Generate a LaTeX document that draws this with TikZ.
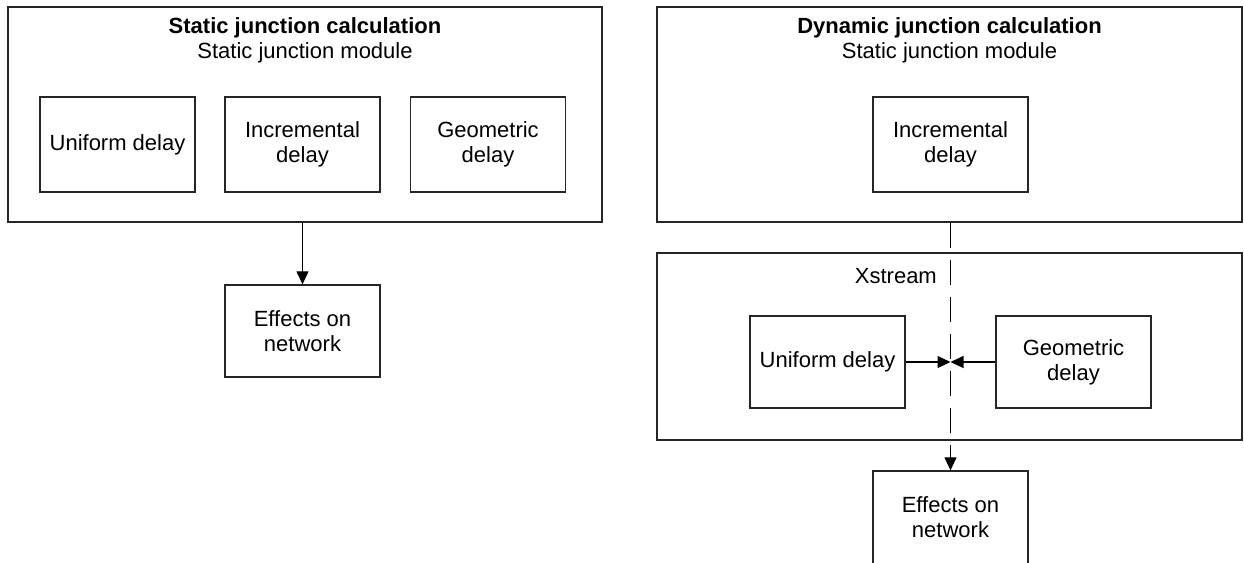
\documentclass[tikz,border=0pt]{standalone}
\usepackage{fontspec}
\setmainfont{Liberation Sans}
\usetikzlibrary{arrows.meta}
\begin{document}
\begin{tikzpicture}[x=1pt,y=-1pt,
  every node/.style={font=\fontsize{22}{25}\selectfont},
  box/.style={draw=black!85, line width=1.3pt, minimum width=155pt, minimum height=95pt, align=center, inner sep=0pt},
  frame/.style={draw=black!85, line width=1.3pt, inner sep=0pt},
  txt/.style={inner sep=0pt, align=center},
  arr/.style={line width=1.2pt, -{Triangle[length=13pt,width=12pt]}},
  dsh/.style={line width=1.2pt, dash pattern=on 25pt off 12pt}]
\useasboundingbox (0,0) rectangle (1244,562);
\clip (0,0) rectangle (1244,562);
% left part
\node[frame, minimum width=594pt, minimum height=215pt] (L) at (305,114.5) {};
\node[txt, font=\fontsize{22}{25}\selectfont\bfseries] (Lt) at (305,28) {Static junction calculation};
\node[txt] (Ls) at (305,53) {Static junction module};
\node[box] (Lu) at (117.5,144.5) {Uniform delay};
\node[box] (Li) at (302.5,144.5) {Incremental\\delay};
\node[box] (Lg) at (488,144.5) {Geometric\\delay};
\node[box, minimum height=92pt] (Le) at (302.5,331) {Effects on\\network};
\draw[arr] (Le.north |- L.south) -- (Le.north);
% right part
\node[frame, minimum width=585pt, minimum height=215pt] (R) at (949.5,114.5) {};
\node[txt, font=\fontsize{22}{25}\selectfont\bfseries] (Rt) at (949.5,28) {Dynamic junction calculation};
\node[txt] (Rs) at (949.5,53) {Static junction module};
\node[box] (Ri) at (950.5,144.5) {Incremental\\delay};
\node[frame, minimum width=585pt, minimum height=187pt] (X) at (949.5,346.5) {};
\node[txt, anchor=east] (Xt) at (937,276) {Xstream};
\node[box, minimum height=92pt] (Ru) at (827.5,362) {Uniform delay};
\node[box, minimum height=92pt] (Rg) at (1073.5,362) {Geometric\\delay};
\node[box, minimum height=93pt] (Re) at (950.5,517.5) {Effects on\\network};
\coordinate (M) at (950.5,362);
\coordinate (Ra) at ([yshift=14pt]Re.north);
\draw[dsh] (Re.north |- R.south) -- (Ra);
\draw[arr] (Ra) -- (Re.north);
\draw[arr] (Ru.east) -- (M);
\draw[arr] (Rg.west) -- (M);
\end{tikzpicture}
\end{document}
